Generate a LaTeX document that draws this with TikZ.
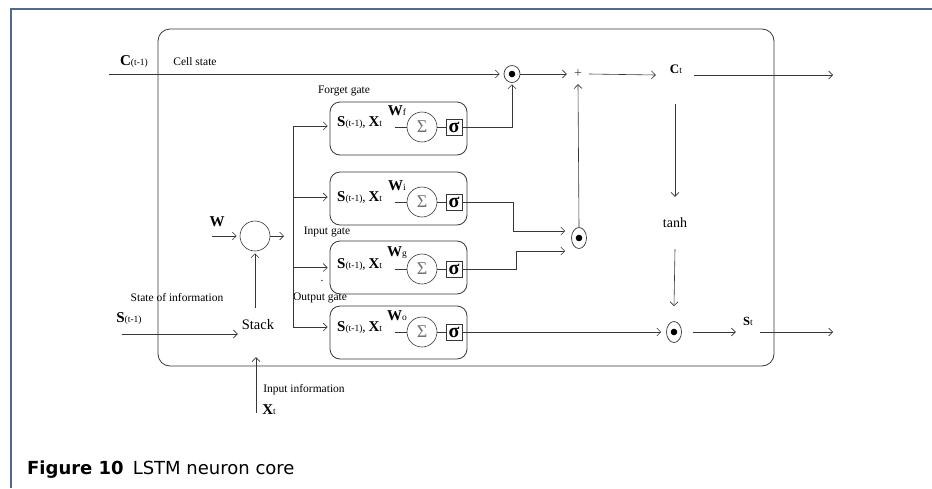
\documentclass[tikz,border=0pt]{standalone}
\usepackage{fontspec}
\setmainfont{Liberation Serif}
\newfontfamily\capfont{DejaVu Sans}
\usetikzlibrary{arrows.meta,shapes.geometric}
\definecolor{ln}{RGB}{55,55,55}
\definecolor{frm}{RGB}{80,106,142}
\newcommand{\lbig}[1]{{\fontsize{15}{15}\selectfont\bfseries #1}}
\newcommand{\lsub}[1]{{\fontsize{9.5}{9.5}\selectfont #1}}
\newcommand{\gtext}{\lbig{S}\lsub{(t-1)}{\fontsize{13}{13}\selectfont,} \lbig{X}\lsub{t}}
\tikzset{
  conn/.style={draw=ln, line width=0.6pt, -{Straight Barb[length=4pt,width=8pt,line width=0.6pt]}},
  plain/.style={draw=ln, line width=0.6pt},
  gatebox/.style={draw=ln, line width=0.8pt, rounded corners=10pt, minimum width=137pt, minimum height=53pt, inner sep=0pt},
  lbl/.style={font=\fontsize{11.5}{12}\selectfont, inner sep=0pt},
  sumc/.style={circle, draw=ln, line width=0.6pt, minimum size=30pt, inner sep=0pt, text=black!55, font=\fontsize{18}{18}\selectfont},
  sigb/.style={draw=ln, line width=1pt, minimum size=16pt, inner sep=0pt, font=\fontsize{20}{20}\selectfont\bfseries},
  mult/.style={ellipse, draw=ln, line width=0.7pt, minimum width=15pt, minimum height=21pt, inner sep=0pt,
     path picture={\fill[black] (path picture bounding box.center) circle (3.3pt);}},
}
\newcommand{\lstmgate}[4]{%
  \node[gatebox] (g#1) at (398.5,#2) {};
  \node[lbl,anchor=west] (in#1) at (337,#3-4) {\gtext};
  \node[sumc] (sum#1) at (422,#3) {Σ};
  \node[inner sep=0pt] (w#1) at (397,#3-16) {\lbig{W}\lsub{#4}};
  \node[sigb] (sig#1) at (454,#3) {σ};
  \draw[plain] ([xshift=-12pt]sum#1.west) -- (sum#1.west);
  \draw[plain] (sum#1.east) -- (sig#1.west);
}
\begin{document}
\begin{tikzpicture}[x=1pt,y=-1pt]
\useasboundingbox[fill=white] (0,0) rectangle (932,488);
\draw[frm, line width=1.2pt] (11,488) -- (11,9) -- (932,9);
\draw[ln, line width=0.8pt, rounded corners=12pt] (158,29) rectangle (774,366);
% cell state
\coordinate (cin) at (109,74);
\node[lbl] (clab) at (134,62) {\lbig{C}\lsub{(t-1)}};
\node[lbl] (cslab) at (195,62) {Cell state};
\node[mult, minimum width=16pt, minimum height=17pt] (m1) at (512,74) {};
\node[inner sep=0pt, minimum width=22pt, minimum height=20pt, font=\fontsize{14}{14}\selectfont, text=black!75] (plus) at (578,74) {+};
\node[minimum width=38pt, minimum height=58pt, inner sep=0pt] (ct) at (675,75) {};
\node[inner sep=0pt] (ctl) at (676,69) {{\fontsize{13}{13}\selectfont\bfseries C}\lsub{t}};
\coordinate (cout) at (833,75);
\draw[conn, shorten >=4pt] (cin) -- (m1.west);
\draw[conn] (m1.east) -- (plus.west);
\draw[conn] (plus.east) -- (ct.west);
\draw[conn] (ct.east) -- (cout);
% gates
\lstmgate{1}{128.5}{127}{f}
\lstmgate{2}{198.5}{202}{i}
\lstmgate{3}{267.5}{269}{g}
\lstmgate{4}{332.5}{332}{o}
\node[lbl] (fg) at (344,91) {Forget gate};
\node[lbl] (ig) at (327,232) {Input gate};
\node[lbl] (og) at (320,298) {Output gate};
\node[lbl] (dotl) at (322,281) {.};
% multipliers
\node[mult] (m2) at (579,238) {};
\node[mult] (m4) at (674,332) {};
\draw[conn, shorten >=1.5pt] (sig1.east) -| (m1.south);
\draw[conn] (sig2.east) -- ++(51,0) |- ([xshift=-6pt,yshift=7pt]m2.west);
\draw[conn] (sig3.east) -- ++(54,0) |- ([xshift=-6pt,yshift=-13pt]m2.west);
\draw[conn, shorten >=5pt] (sig4.east) -- (m4.west);
\draw[conn] (m2.north) -- (plus.south);
% right column
\node[minimum height=52pt, inner sep=0pt, font=\fontsize{14}{14}\selectfont] (tanh) at (675,223) {tanh};
\draw[conn] (ct.south) -- (tanh.north);
\draw[conn] (tanh.south) -- ([yshift=15pt]m4.north);
\node[minimum width=24pt, minimum height=8pt, inner sep=0pt] (st) at (748,332) {};
\node[inner sep=0pt] (stl) at (748,321) {{\fontsize{12.5}{12.5}\selectfont\bfseries S}\lsub{t}};
\coordinate (sout) at (833,332);
\draw[conn, shorten <=11pt] (m4.east) -- (st.west);
\draw[conn] (st.east) -- (sout);
% left part
\node[inner sep=0pt] (wl) at (217,222) {\lbig{W}};
\coordinate (win) at (212,236);
\node[circle, draw=ln, line width=0.6pt, minimum size=30pt, inner sep=0pt] (cc) at (255,236) {};
\draw[conn, shorten >=3pt] (win) -- (cc.west);
\coordinate (ccout) at (284,236);
\draw[conn] (cc.east) -- (ccout);
\coordinate (bus) at (293,230);
\draw[plain] ([yshift=2.5pt]g1.west -| bus) -- ([yshift=5.5pt]g4.west -| bus);
\foreach \i/\s in {1/2.5,2/1.5,3/0,4/5.5} {
  \draw[conn] ([yshift=\s pt]g\i.west -| bus) -- ([xshift=-2pt,yshift=\s pt]g\i.west);
}
\node[inner sep=0pt, minimum width=40pt, minimum height=34pt, font=\fontsize{14.5}{14.5}\selectfont] (stack) at (258,325) {Stack};
\draw[conn, shorten >=2pt] (cc.south |- stack.north) -- (cc.south);
\coordinate (sin) at (122,334);
\draw[conn] (sin) -- (sin -| stack.west);
\node[lbl] (sinl) at (129,319) {\lbig{S}\lsub{(t-1)}};
\node[lbl] (soi) at (177,298) {State of information};
\coordinate (xin) at (256,413);
\draw[conn, shorten >=15pt] (xin) -- (xin |- stack.south);
\node[lbl] (iil) at (304,390) {Input information};
\node[inner sep=0pt] (xtl) at (269,410) {\lbig{X}\lsub{t}};
% caption
\node[anchor=base west, inner sep=0pt, font=\capfont\fontsize{18}{18}\selectfont] (cap) at (27,474) {\textbf{Figure 10}\enspace LSTM neuron core};
\end{tikzpicture}
\end{document}
